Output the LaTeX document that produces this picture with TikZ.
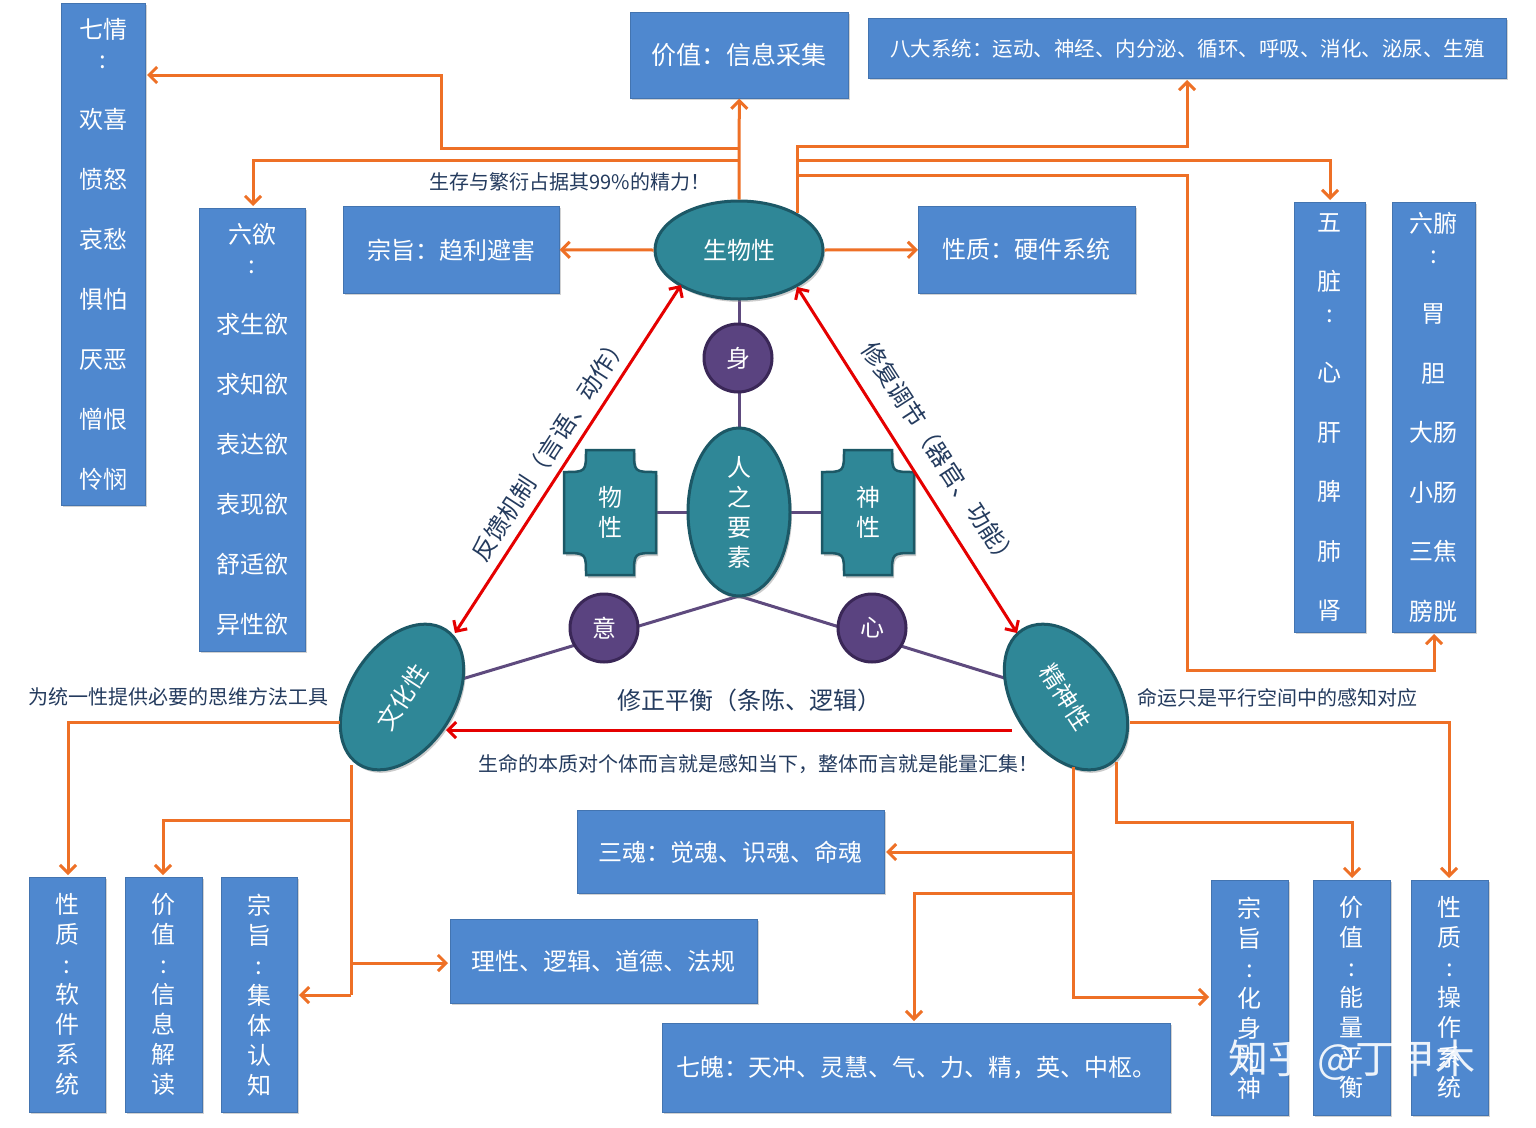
\documentclass[tikz,border=0pt]{standalone}
\usepackage{fontspec}
\newfontfamily\cjk{Noto Sans CJK SC}
\usetikzlibrary{shapes.geometric,arrows.meta,shadows}
\definecolor{boxblue}{HTML}{4F88CF}
\definecolor{orangec}{HTML}{EE7026}
\definecolor{tealc}{HTML}{2F8797}
\definecolor{tealdark}{HTML}{1C5866}
\definecolor{purp}{HTML}{5A4380}
\definecolor{purpdark}{HTML}{3A2757}
\definecolor{purline}{HTML}{5E4A7E}
\definecolor{txt}{HTML}{243B5E}
\begin{document}
\begin{tikzpicture}[x=1pt,y=-1pt,
  bbox/.style={fill=boxblue, draw=boxblue!85!black, line width=0.6pt, inner sep=0pt,
     drop shadow={shadow xshift=2pt,shadow yshift=-2pt,opacity=.35},
     text=white, font=\cjk\fontsize{24}{28}\selectfont, align=center, anchor=north west},
  ell/.style={ellipse, fill=tealc, draw=tealdark, line width=3pt, inner sep=0pt,
     text=white, font=\cjk\fontsize{24}{30}\selectfont, align=center,
     drop shadow={shadow xshift=2pt,shadow yshift=-3pt,opacity=.4}},
  circ/.style={circle, fill=purp, draw=purpdark, line width=3pt, minimum size=68pt, inner sep=0pt,
     text=white, font=\cjk\fontsize{24}{26}\selectfont},
  lbl/.style={text=txt, font=\cjk\fontsize{20}{22}\selectfont, inner sep=0pt},
  lblbig/.style={text=txt, font=\cjk\fontsize{24}{26}\selectfont, inner sep=0pt},
  oa/.style={draw=orangec, line width=3pt, -{Straight Barb[length=8pt,width=16pt,line width=3pt]}},
  ol/.style={draw=orangec, line width=3pt},
  ra/.style={draw=red!90!black, line width=3pt, {Straight Barb[length=8pt,width=16pt]}-{Straight Barb[length=8pt,width=16pt]}},
  pl/.style={draw=purline, line width=3pt}]
\useasboundingbox (0,0) rectangle (1536,1127);
\fill[white] (0,0) rectangle (1536,1127);

% ---------- purple inner structure ----------
\coordinate (hub) at (739,596);
\draw[pl] (739,298) -- (739,430);
\draw[pl] (610,512) -- (868,512);
\draw[pl] (402,697) -- (hub) -- (1066,697);

% ---------- boxes ----------
\node[bbox, minimum width=84pt, minimum height=502pt, font=\cjk\fontsize{24}{60}\selectfont] (qq) at (61,3)
  {七情\\[-30pt]:\\欢喜\\愤怒\\哀愁\\惧怕\\厌恶\\憎恨\\怜悯};
\node[bbox, minimum width=218pt, minimum height=86pt, font=\cjk\fontsize{25}{28}\selectfont] (jz) at (630,12) {价值：信息采集};
\node[bbox, minimum width=638pt, minimum height=60pt, font=\cjk\fontsize{20.5}{24}\selectfont] (bd) at (868,18)
  {八大系统：运动、神经、内分泌、循环、呼吸、消化、泌尿、生殖};
\node[bbox, minimum width=106pt, minimum height=443pt, font=\cjk\fontsize{24}{60}\selectfont] (ly) at (199,208)
  {六欲\\[-30pt]:\\求生欲\\求知欲\\表达欲\\表现欲\\舒适欲\\异性欲};
\node[bbox, minimum width=216pt, minimum height=87pt] (zz) at (343,206) {宗旨：趋利避害};
\node[bbox, minimum width=217pt, minimum height=87pt] (xz) at (918,206) {性质：硬件系统};
\node[bbox, minimum width=71pt, minimum height=430pt, font=\cjk\fontsize{24}{59.5}\selectfont] (wz) at (1294,202)
  {五\\脏\\[-28pt]:\\心\\肝\\脾\\肺\\肾};
\node[bbox, minimum width=83pt, minimum height=430pt, font=\cjk\fontsize{24}{59.5}\selectfont] (lf) at (1392,202)
  {六腑\\[-29pt]:\\胃\\胆\\大肠\\小肠\\三焦\\膀胱};
\node[bbox, minimum width=307pt, minimum height=83pt] (sh) at (577,810) {三魂：觉魂、识魂、命魂};
\node[bbox, minimum width=307pt, minimum height=84pt] (lx) at (450,919) {理性、逻辑、道德、法规};
\node[bbox, minimum width=508pt, minimum height=89pt] (qp) at (662,1023) {七魄：天冲、灵慧、气、力、精，英、中枢。};
\node[bbox, minimum width=76pt, minimum height=235pt, font=\cjk\fontsize{24}{30}\selectfont] (b1) at (29,877) {性\\质\\:\\软\\件\\系\\统};
\node[bbox, minimum width=77pt, minimum height=235pt, font=\cjk\fontsize{24}{30}\selectfont] (b2) at (125,877) {价\\值\\:\\信\\息\\解\\读};
\node[bbox, minimum width=76pt, minimum height=235pt, font=\cjk\fontsize{24}{30}\selectfont] (b3) at (221,877) {宗\\旨\\:\\集\\体\\认\\知};
\node[bbox, minimum width=77pt, minimum height=235pt, font=\cjk\fontsize{24}{30}\selectfont] (r1) at (1211,880) {宗\\旨\\:\\化\\身\\为\\神};
\node[bbox, minimum width=77pt, minimum height=235pt, font=\cjk\fontsize{24}{30}\selectfont] (r2) at (1313,880) {价\\值\\:\\能\\量\\平\\衡};
\node[bbox, minimum width=77pt, minimum height=235pt, font=\cjk\fontsize{24}{30}\selectfont] (r3) at (1411,880) {性\\质\\:\\操\\作\\系\\统};

% ---------- main ellipses ----------
\node[ell, minimum width=168pt, minimum height=98pt] (bio) at (739,250) {生物性};
\node[ell, minimum width=160pt, minimum height=104pt, rotate=57] (cul) at (402,697) {文化性};
\node[ell, minimum width=160pt, minimum height=104pt, rotate=-57] (spi) at (1066,697) {精神性};
\node[ell, minimum width=102pt, minimum height=168pt] (rz) at (739,512) {人\\之\\要\\素};

\node[circ] (shen) at (738,358) {身};
\node[circ] (yi) at (604,628) {意};
\node[circ] (xin) at (872,628) {心};

% concave-corner shapes
\foreach \cx/\nm in {610/wx,868/sx}{
  \pgfmathsetmacro\xa{\cx-46}\pgfmathsetmacro\xb{\cx+46}
  \draw[fill=tealc, draw=tealdark, line width=2.5pt, drop shadow={shadow xshift=2pt,shadow yshift=-3pt,opacity=.4}]
   (\xa+22,450) -- (\xb-22,450) .. controls (\xb-22,472) .. (\xb,472) -- (\xb,553)
   .. controls (\xb-22,553) .. (\xb-22,575) -- (\xa+22,575) .. controls (\xa+22,553) .. (\xa,553)
   -- (\xa,472) .. controls (\xa+22,472) .. (\xa+22,450) -- cycle;
}
\node[text=white, font=\cjk\fontsize{24}{30}\selectfont, align=center] (wxt) at (610,512) {物\\性};
\node[text=white, font=\cjk\fontsize{24}{30}\selectfont, align=center] (sxt) at (868,512) {神\\性};

% ---------- red arrows ----------
\coordinate (b1r) at (681,285); \coordinate (c1r) at (455,633);
\coordinate (b2r) at (797,287); \coordinate (s1r) at (1017,633);
\draw[ra] (b1r) -- (c1r);
\draw[ra] (b2r) -- (s1r);
\draw[draw=red!90!black, line width=3pt, -{Straight Barb[length=8pt,width=16pt]}] (1012,730) -- (446,730);

\node[lblbig, rotate=57] (l1) at (550,448) {反馈机制（言语、动作）};
\node[lblbig, rotate=-57] (l2) at (940,455) {修复调节（器官、功能）};
\node[lblbig] (l3) at (749,700) {修正平衡（条陈、逻辑）};
\node[lbl] (l4) at (758,764) {生命的本质对个体而言就是感知当下，整体而言就是能量汇集！};
\node[lbl] (l5) at (570,182) {生存与繁衍占据其99\%的精力！};
\node[lbl] (l6) at (178,697) {为统一性提供必要的思维方法工具};
\node[lbl] (l7) at (1277,698) {命运只是平行空间中的感知对应};

% ---------- orange connectors ----------
\coordinate (qqin) at (147,75);
\coordinate (lyin) at (253,206);
\coordinate (bdin) at (1187,80);
\coordinate (wzin) at (1330,200);
\coordinate (lfin) at (1434,634);
\coordinate (b1in) at (68,875);
\coordinate (b2in) at (163,875);
\coordinate (b3in) at (299,995);
\coordinate (lxin) at (448,963);
\coordinate (r1in) at (1209,997);
\coordinate (r2in) at (1352,878);
\coordinate (r3in) at (1449,878);
\coordinate (shin) at (886,852);
\coordinate (qpin) at (914,1021);

\draw[oa] (bio.north) -- (jz.south);
\draw[oa] (739,148) -- (441,148) -- (441,75) -- (qqin);
\draw[oa] (739,160) -- (253,160) -- (lyin);
\draw[oa] (bio.west) -- (zz.east);
\draw[oa] (bio.east) -- (xz.west);
\draw[oa] (797,213) -- (797,146) -- (1187,146) -- (bdin);
\draw[oa] (797,160) -- (1330,160) -- (wzin);
\draw[oa] (797,175) -- (1187,175) -- (1187,670) -- (1434,670) -- (lfin);

\draw[oa] (340,722) -- (68,722) -- (b1in);
\draw[ol] (351,765) -- (351,995);
\draw[oa] (351,820) -- (163,820) -- (b2in);
\draw[oa] (351,963) -- (lxin);
\draw[oa] (351,995) -- (b3in);

\draw[oa] (1130,722) -- (1449,722) -- (r3in);
\draw[oa] (1116,762) -- (1116,822) -- (1352,822) -- (r2in);
\draw[oa] (1073,767) -- (1073,997) -- (r1in);
\draw[oa] (1073,852) -- (shin);
\draw[oa] (1073,893) -- (914,893) -- (qpin);

% watermark
\node[text=white, font=\cjk\fontsize{40}{44}\selectfont, opacity=.9] (wm) at (1352,1060) {知乎 @丁甲木};
\end{tikzpicture}
\end{document}
